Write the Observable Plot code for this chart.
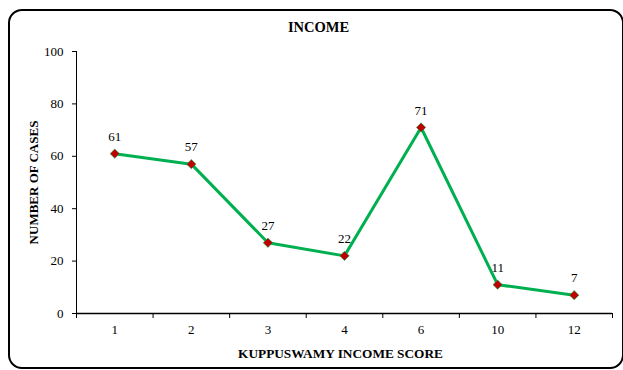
<!DOCTYPE html>
<html>
<head>
<meta charset="utf-8">
<script src="https://cdn.jsdelivr.net/npm/d3@7"></script>
<script src="https://cdn.jsdelivr.net/npm/@observablehq/plot@0.6"></script>
<style>
  html, body { margin: 0; padding: 0; background: #fff; }
  #wrap { position: relative; width: 623px; height: 370px; overflow: hidden; }
  #border {
    position: absolute; left: 8px; top: 9px; width: 612px; height: 356px;
    border: 2px solid #000; border-radius: 14px; box-sizing: content-box;
  }
  #chart { position: absolute; left: 0; top: 0; }
</style>
</head>
<body>
<div id="wrap"><div id="border"></div><div id="chart"></div></div>
<script>
// Kuppuswamy income score categories and number of cases
const scores = ["1", "2", "3", "4", "6", "10", "12"];
const cases = [61, 57, 27, 22, 71, 11, 7];
const yTicks = [0, 20, 40, 60, 80, 100];

const data = scores.map((s, i) => ({ score: s, pos: i + 0.5, cases: cases[i] }));
const font = "'Liberation Serif', 'Times New Roman', serif";

const chart = Plot.plot({
  width: 623,
  height: 370,
  marginLeft: 76,
  marginRight: 11,
  marginTop: 51,
  marginBottom: 57,
  style: { fontFamily: font, fontSize: "13px", color: "#000", background: "transparent" },
  x: { domain: [0, scores.length], axis: null },
  y: { domain: [0, 100], axis: null },
  marks: [
    // axes
    Plot.ruleX([0], { y1: 0, y2: 100, stroke: "#000", strokeWidth: 1 }),
    Plot.ruleY([0], { stroke: "#000", strokeWidth: 1.5 }),
    Plot.axisY({ ticks: yTicks, tickSize: 4, tickPadding: 9, label: null, fontSize: 13 }),
    Plot.axisX({ ticks: d3.range(scores.length + 1), tickSize: 5, tickFormat: () => "", label: null }),
    Plot.text(data, { x: "pos", y: 0, text: "score", dy: 16, fontSize: 13 }),
    // series
    Plot.line(data, { x: "pos", y: "cases", stroke: "#00b050", strokeWidth: 3 }),
    Plot.dot(data, { x: "pos", y: "cases", symbol: "diamond2", r: 4.2, fill: "#c00000", stroke: "#00b050", strokeWidth: 0.6 }),
    Plot.text(data, { x: "pos", y: "cases", text: d => String(d.cases), dy: -17, fontSize: 13 }),
    // titles
    Plot.text(["INCOME"], { frameAnchor: "top", lineAnchor: "middle", dy: -24, dx: -26, fontWeight: "bold", fontSize: 14.5 }),
    Plot.text(["KUPPUSWAMY INCOME SCORE"], { frameAnchor: "bottom", lineAnchor: "middle", dy: 40, dx: -4, fontWeight: "bold", fontSize: 13.3 }),
    Plot.text(["NUMBER OF CASES"], { frameAnchor: "left", textAnchor: "middle", lineAnchor: "middle", dx: -43, rotate: -90, fontWeight: "bold", fontSize: 13 })
  ]
});
document.getElementById("chart").appendChild(chart);
</script>
</body>
</html>
